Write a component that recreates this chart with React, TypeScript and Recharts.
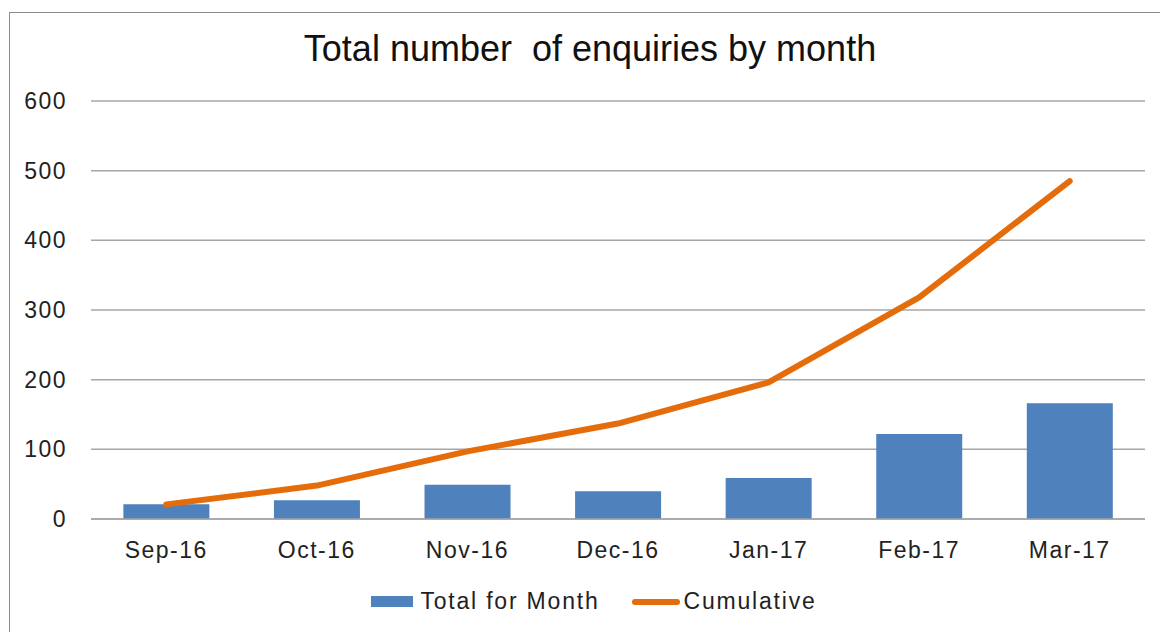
import { ComposedChart, Bar, Line, XAxis, YAxis, CartesianGrid, Legend } from 'recharts';

const months = ['Sep-16', 'Oct-16', 'Nov-16', 'Dec-16', 'Jan-17', 'Feb-17', 'Mar-17'];
const totalForMonth = [21, 27, 49, 40, 59, 122, 166];
const cumulative = [21, 48, 97, 137, 196, 318, 485];
const yTicks = [0, 100, 200, 300, 400, 500, 600];

const data = months.map((m, i) => ({
  month: m,
  total: totalForMonth[i],
  cumulative: cumulative[i],
}));

const FONT = '"Liberation Sans", Arial, sans-serif';
const BLUE = '#4f81bd';
const ORANGE = '#e46c0a';

function LegendContent() {
  return (
    <div
      style={{
        display: 'flex',
        justifyContent: 'center',
        alignItems: 'center',
        fontFamily: FONT,
        fontSize: 23,
        color: '#222',
        letterSpacing: 1.8,
        paddingLeft: 28,
      }}
    >
      <span style={{ display: 'inline-block', width: 42, height: 11, background: BLUE, marginRight: 7 }} />
      <span>Total for Month</span>
      <span style={{ display: 'inline-block', width: 48, height: 6, borderRadius: 3, background: ORANGE, marginLeft: 32, marginRight: 4 }} />
      <span>Cumulative</span>
    </div>
  );
}

export default function App() {
  return (
    <div style={{ position: 'absolute', left: 0, top: 0, width: 1160, height: 632, background: '#fff', overflow: 'hidden' }}>
      <div
        style={{
          position: 'absolute',
          left: 9,
          top: 12,
          width: 1200,
          height: 700,
          borderLeft: '1px solid #8c8c8c',
          borderTop: '1px solid #8c8c8c',
        }}
      />
      <div
        style={{
          position: 'absolute',
          left: 0,
          width: 1180,
          top: 28,
          textAlign: 'center',
          fontFamily: FONT,
          fontSize: 36,
          color: '#111',
          whiteSpace: 'pre',
        }}
      >
        {'Total number  of enquiries by month'}
      </div>
      <div style={{ position: 'absolute', left: 0, top: 0 }}>
        <ComposedChart
          width={1160}
          height={632}
          data={data}
          margin={{ top: 101, right: 15, bottom: 53, left: 11 }}
          barCategoryGap="21.5%"
        >
          <CartesianGrid vertical={false} stroke="#a6a6a6" strokeWidth={1.5} />
          <XAxis
            dataKey="month"
            height={60}
            tickLine={false}
            axisLine={{ stroke: '#a6a6a6', strokeWidth: 1.5 }}
            tickMargin={17}
            tick={{ fill: '#222', fontSize: 23, fontFamily: FONT, letterSpacing: 1.5 }}
          />
          <YAxis
            width={80}
            domain={[0, 600]}
            ticks={yTicks}
            tickLine={false}
            axisLine={false}
            tickMargin={18}
            tick={{ fill: '#222', fontSize: 23, fontFamily: FONT, letterSpacing: 1.5 }}
          />
          <Legend
            verticalAlign="middle"
            align="center"
            layout="horizontal"
            content={<LegendContent />}
            wrapperStyle={{ left: 0, top: 588, width: 1160 }}
          />
          <Bar dataKey="total" name="Total for Month" fill={BLUE} isAnimationActive={false} />
          <Line
            dataKey="cumulative"
            name="Cumulative"
            type="linear"
            stroke={ORANGE}
            strokeWidth={6}
            strokeLinecap="round"
            strokeLinejoin="round"
            dot={false}
            activeDot={false}
            isAnimationActive={false}
          />
        </ComposedChart>
      </div>
    </div>
  );
}
